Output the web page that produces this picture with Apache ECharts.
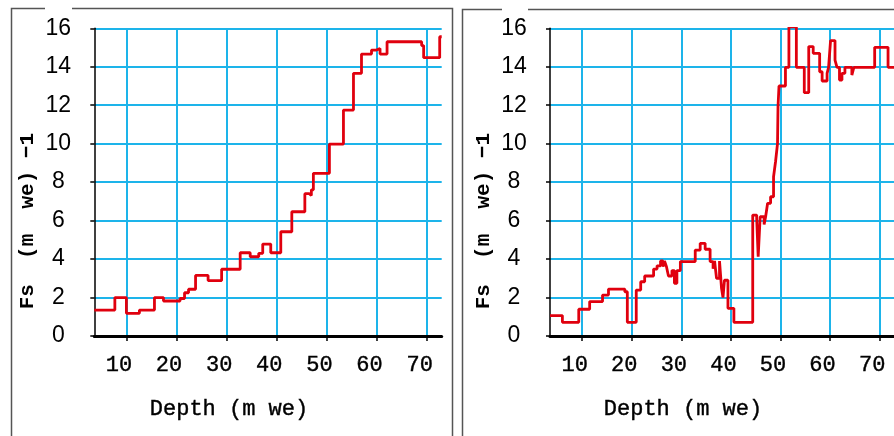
<!DOCTYPE html>
<html>
<head>
<meta charset="utf-8">
<script src="https://cdn.jsdelivr.net/npm/echarts@6/dist/echarts.min.js"></script>
<style>
html,body{margin:0;padding:0;background:#fff;}
#chart{width:894px;height:436px;}
</style>
</head>
<body>
<div id="chart"></div>
<script>
// ---- data ----
var xTicks = [10, 20, 30, 40, 50, 60, 70];
var yTicks = [0, 2, 4, 6, 8, 10, 12, 14, 16];

var depthLeft = [3.6, 7.7, 10.0, 12.6, 15.6, 17.4, 20.7, 21.6, 22.4, 23.8, 26.3, 29.0, 32.7, 34.7, 36.4, 37.2, 38.8, 40.8, 43.0, 45.6, 46.5, 46.9, 47.3, 50.5, 53.3, 55.3, 56.9, 58.9, 59.9, 60.6, 62.0, 68.9, 69.3, 72.5, 72.9];
var fsLeft    = [1.35, 2.0, 1.18, 1.35, 2.0, 1.82, 1.95, 2.25, 2.43, 3.15, 2.88, 3.47, 4.33, 4.12, 4.3, 4.78, 4.33, 5.42, 6.46, 7.4, 7.3, 7.6, 8.46, 9.98, 11.75, 13.66, 14.66, 14.87, 14.95, 14.66, 15.3, 15.1, 14.47, 15.56, 15.56];

var depthRight = [3.5, 6.0, 9.3, 11.5, 14.1, 15.3, 18.6, 19.1, 20.9, 21.8, 22.6, 24.4, 25.1, 25.8, 26.3, 26.6, 27.0, 27.4, 28.1, 28.6, 29.1, 29.8, 32.8, 33.8, 34.8, 35.8, 36.4, 36.7, 37.1, 37.7, 38.1, 38.4, 38.7, 39.4, 40.6, 44.4, 45.2, 45.5, 45.9, 46.7, 47.0, 47.4, 48.0, 48.6, 49.0, 49.4, 49.5, 49.7, 51.0, 51.7, 53.2, 54.8, 55.7, 56.6, 57.9, 58.4, 59.4, 59.7, 60.1, 61.0, 61.4, 61.9, 62.4, 63.0, 64.4, 64.8, 69.0, 71.7, 72.9];
var fsRight    = [1.06, 0.71, 1.39, 1.79, 2.13, 2.44, 2.3, 0.71, 2.39, 2.82, 3.12, 3.48, 3.65, 3.9, 3.6, 3.9, 3.6, 3.12, 3.4, 2.74, 3.4, 3.87, 4.47, 4.82, 4.51, 3.87, 3.5, 3.9, 3.0, 3.9, 2.5, 2.0, 2.9, 1.44, 0.71, 6.29, 6.1, 4.12, 6.2, 5.8, 6.2, 6.9, 7.24, 8.28, 9.06, 10.0, 11.92, 13.0, 13.97, 16.08, 13.97, 12.65, 15.05, 14.7, 13.74, 13.26, 13.66, 13.97, 15.36, 14.35, 13.97, 13.31, 13.66, 13.97, 13.57, 13.97, 15.01, 13.97, 13.97];

var xName = 'Depth (m we)';
var yName = 'Fs  (m  we) \u22121';

function pairs(xs, ys) {
  var out = [];
  for (var i = 0; i < xs.length; i++) out.push([xs[i], ys[i]]);
  return out;
}

var gridColor = '#1DB4EA';
var lineColor = '#E0000E';

function makeX(idx, min, max) {
  return {
    type: 'value', gridIndex: idx, min: min, max: max,
    name: xName, nameLocation: 'middle', nameGap: 62,
    nameTextStyle: { fontFamily: 'Liberation Mono', fontSize: 22, color: '#000', textBorderColor: '#000', textBorderWidth: 0.4, padding: [0, 78, 0, 0] },
    axisLine: { show: true, onZero: false, lineStyle: { color: '#000', width: 3 } },
    axisTick: { show: true, customValues: xTicks, length: 5, lineStyle: { color: '#000', width: 1.5 } },
    axisLabel: { customValues: xTicks, fontFamily: 'Liberation Mono', fontSize: 22, color: '#000', textBorderColor: '#000', textBorderWidth: 0.4, margin: 18, padding: [0, 15, 0, 0] },
    splitLine: { show: true, lineStyle: { color: gridColor, width: 2 } }
  };
}
function makeY(idx) {
  return {
    type: 'value', gridIndex: idx, min: 0, max: 16, interval: 2,
    name: yName, nameLocation: 'middle', nameGap: 56, nameRotate: 90,
    nameTextStyle: { fontFamily: 'Liberation Mono', fontWeight: 'bold', fontSize: 21, color: '#000', padding: [0, 78, 0, 0] },
    axisLine: { show: true, lineStyle: { color: '#000', width: 1.5 } },
    axisTick: { show: true, length: 4, lineStyle: { color: '#000', width: 1.5 } },
    axisLabel: { fontFamily: 'Liberation Sans', fontSize: 23, color: '#000', margin: 36, align: 'center' },
    splitLine: { show: true, lineStyle: { color: gridColor, width: 2 } }
  };
}

var chart = echarts.init(document.getElementById('chart'), null, { renderer: 'canvas' });
chart.setOption({
  animation: false,
  backgroundColor: '#fff',
  graphic: [
    { type: 'rect', z: -10, shape: { x: 11.5, y: 8.5, width: 441, height: 440 }, style: { fill: 'none', stroke: '#555', lineWidth: 1.5 } },
    { type: 'rect', z: -10, shape: { x: 462.5, y: 9.5, width: 450, height: 440 }, style: { fill: 'none', stroke: '#555', lineWidth: 1.5 } },
    { type: 'rect', z: -9, shape: { x: 45, y: 5, width: 27, height: 7 }, style: { fill: '#fff' } },
    { type: 'rect', z: -9, shape: { x: 502, y: 5, width: 26, height: 8 }, style: { fill: '#fff' } }
  ],
  grid: [
    { left: 94.3, top: 28.3, width: 347.4, height: 307.7 },
    { left: 550, top: 28.3, width: 348, height: 307.7 }
  ],
  xAxis: [ makeX(0, 3.6, 72.9), makeX(1, 3.5, 72.9) ],
  yAxis: [ makeY(0), makeY(1) ],
  series: [
    { type: 'line', xAxisIndex: 0, yAxisIndex: 0, step: 'end', symbol: 'none', data: pairs(depthLeft, fsLeft), lineStyle: { color: lineColor, width: 2.8 } },
    { type: 'line', xAxisIndex: 1, yAxisIndex: 1, step: 'end', symbol: 'none', data: pairs(depthRight, fsRight), lineStyle: { color: lineColor, width: 2.8 } }
  ]
});
</script>
</body>
</html>
